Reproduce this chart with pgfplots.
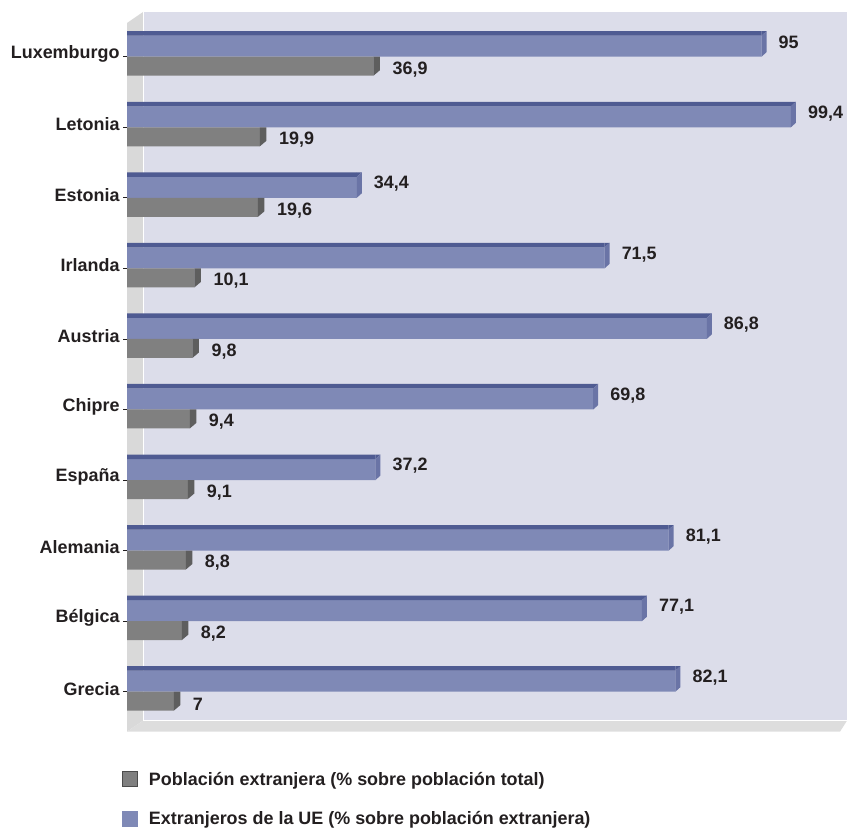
\documentclass[border=0pt]{standalone}
\usepackage{fontspec}
\setmainfont{Liberation Sans}
\usepackage{pgfplots}
\usepackage{pgfplotstable}
\pgfplotsset{compat=1.18}
\definecolor{bluefront}{HTML}{7F89B6}
\definecolor{bluetop}{HTML}{4F5B92}
\definecolor{blueside}{HTML}{6A74A6}
\definecolor{grayfront}{HTML}{808080}
\definecolor{grayside}{HTML}{5E5E5E}
\definecolor{wallback}{HTML}{DCDDEA}
\definecolor{wallside}{HTML}{D9D9D9}
\definecolor{wallfloor}{HTML}{DDDDDD}
\definecolor{txt}{HTML}{231F20}
\newcommand\lf{\fontsize{18}{21.6}\selectfont\bfseries}

\pgfdeclareplotmark{bluecap}{%
  \pgfsetfillcolor{bluetop}%
  \pgfpathmoveto{\pgfpoint{0bp}{21bp}}\pgfpathlineto{\pgfpoint{5bp}{25.5bp}}%
  \pgfpathlineto{\pgfpoint{0bp}{25.5bp}}\pgfpathclose\pgfusepath{fill}%
  \pgfsetfillcolor{blueside}%
  \pgfpathmoveto{\pgfpoint{0bp}{0bp}}\pgfpathlineto{\pgfpoint{5bp}{4.5bp}}%
  \pgfpathlineto{\pgfpoint{5bp}{25.5bp}}\pgfpathlineto{\pgfpoint{0bp}{21bp}}%
  \pgfpathclose\pgfusepath{fill}}
\pgfdeclareplotmark{graycap}{%
  \pgfsetfillcolor{grayside}%
  \pgfpathmoveto{\pgfpoint{0bp}{-19bp}}\pgfpathlineto{\pgfpoint{6.5bp}{-13.5bp}}%
  \pgfpathlineto{\pgfpoint{6.5bp}{0bp}}\pgfpathlineto{\pgfpoint{0bp}{0bp}}%
  \pgfpathclose\pgfusepath{fill}}

\pgfplotstableread{
idx eu pop
0 82.1 7
1 77.1 8.2
2 81.1 8.8
3 37.2 9.1
4 69.8 9.4
5 86.8 9.8
6 71.5 10.1
7 34.4 19.6
8 99.4 19.9
9 95 36.9
}\datatab

\begin{document}
\begin{tikzpicture}
\begin{axis}[
  name=ax,
  set layers,
  scale only axis,
  width=704bp, height=708.7bp,
  xmin=0, xmax=105.4,
  ymin=-0.567, ymax=9.478,
  clip=false,
  hide x axis,
  axis y line*=left,
  y axis line style={draw=none},
  xtick=\empty,
  ytick={0,...,9},
  yticklabels={Grecia,Bélgica,Alemania,España,Chipre,Austria,Irlanda,Estonia,Letonia,Luxemburgo},
  yticklabel style={font=\lf, text=txt, yshift=3bp},
  tick align=outside,
  major tick length=4bp,
  ytick style={draw=txt, line width=0.8bp},
  /pgf/number format/assume math mode=true,
  /pgf/number format/use comma,
  legend style={at={(0,0)}, anchor=north west, xshift=-5bp, yshift=-38bp,
    draw=none, fill=none, font=\lf, text=txt, row sep=21bp, inner sep=0pt,
    /tikz/every odd column/.append style={column sep=9bp}},
  legend cell align=left,
]
\begin{pgfonlayer}{axis background}
  \fill[wallback] ([shift={(16bp,11bp)}]rel axis cs:0,0) rectangle ([shift={(16bp,11bp)}]rel axis cs:1,1);
  \fill[wallside] (rel axis cs:0,0) -- ([shift={(16bp,11bp)}]rel axis cs:0,0) -- ([shift={(16bp,11bp)}]rel axis cs:0,1) -- (rel axis cs:0,1) -- cycle;
  \fill[wallfloor] (rel axis cs:0,0) -- ([shift={(16bp,11bp)}]rel axis cs:0,0) -- ([shift={(16bp,11bp)}]rel axis cs:1,0) -- ([shift={(9bp,0bp)}]rel axis cs:1,0) -- cycle;
  \draw[white, line width=1bp] ([shift={(16bp,11bp)}]rel axis cs:0,0) -- ([shift={(16bp,11bp)}]rel axis cs:0,1);
  \draw[white, line width=1bp] ([shift={(16bp,11bp)}]rel axis cs:0,0) -- ([shift={(16bp,11bp)}]rel axis cs:1,0);
\end{pgfonlayer}
% blue series
\addplot[xbar, bar width=21bp, bar shift=10.5bp, fill=bluefront, draw=none, forget plot,
  nodes near coords, point meta=x,
  nodes near coords style={font=\lf, text=txt, anchor=west, inner sep=0pt, xshift=17bp, yshift=14bp}]
  table[x=eu, y=idx]{\datatab};
\addplot[xbar, bar width=4.5bp, bar shift=23.25bp, fill=bluetop, draw=none, forget plot]
  table[x=eu, y=idx]{\datatab};
\addplot[only marks, mark=bluecap, forget plot] table[x=eu, y=idx]{\datatab};
% gray series
\addplot[xbar, bar width=19bp, bar shift=-9.5bp, fill=grayfront, draw=none, forget plot,
  nodes near coords, point meta=x,
  nodes near coords style={font=\lf, text=txt, anchor=west, inner sep=0pt, xshift=19bp, yshift=-12.5bp}]
  table[x=pop, y=idx]{\datatab};
\addplot[only marks, mark=graycap, forget plot] table[x=pop, y=idx]{\datatab};
\addlegendimage{legend image code/.code={\draw[fill=grayfront, draw=black!70, line width=0.8bp] (0bp,-7.5bp) rectangle (15bp,7.5bp);}}
\addlegendentry{Población extranjera (\% sobre población total)}
\addlegendimage{legend image code/.code={\fill[bluefront] (0bp,-7.5bp) rectangle (15bp,7.5bp);}}
\addlegendentry{Extranjeros de la UE (\% sobre población extranjera)}
\end{axis}
\pgfresetboundingbox
\path ([shift={(-127bp,-96.3bp)}]ax.south west) rectangle ([shift={(720bp,731.7bp)}]ax.south west);
\end{tikzpicture}
\end{document}
